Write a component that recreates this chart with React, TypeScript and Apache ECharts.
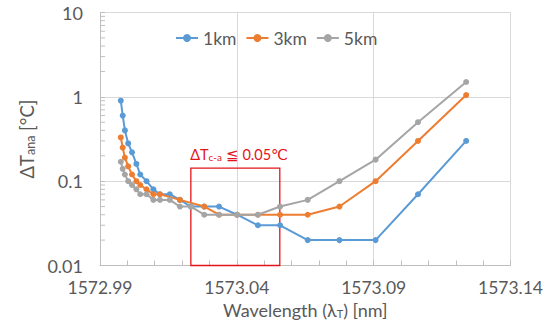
import React, { useEffect, useRef } from 'react';
import * as echarts from 'echarts';

const X_ORIGIN = 1572.99;
const xTickLabels = [1572.99, 1573.04, 1573.09, 1573.14];
const yTickLabels = [0.01, 0.1, 1, 10];

const wavelengths = [
  1572.9976, 1572.9983, 1572.9991, 1573.0003, 1573.0017, 1573.0033, 1573.0047, 1573.007,
  1573.0095, 1573.0119, 1573.0155, 1573.0192, 1573.0232, 1573.0281, 1573.0335, 1573.0401,
  1573.0477, 1573.0558, 1573.0659, 1573.0775, 1573.0907, 1573.1062, 1573.1238,
];
const series1km = [
  0.9, 0.6, 0.4, 0.28, 0.22, 0.16, 0.12, 0.1, 0.08, 0.07, 0.07, 0.06, 0.05, 0.05, 0.05, 0.04,
  0.03, 0.03, 0.02, 0.02, 0.02, 0.07, 0.3,
];
const series3km = [
  0.33, 0.25, 0.19, 0.15, 0.12, 0.1, 0.09, 0.08, 0.07, 0.07, null, 0.06, null, 0.05, 0.04, 0.04,
  0.04, 0.04, 0.04, 0.05, 0.1, 0.3, 1.05,
];
const series5km = [
  0.17, 0.14, 0.12, 0.1, 0.09, 0.08, 0.07, 0.07, 0.06, 0.06, 0.06, 0.05, 0.05, 0.04, 0.04, 0.04,
  0.04, 0.05, 0.06, 0.1, 0.18, 0.5, 1.5,
];
const seriesNames = ['1km', '3km', '5km'];
const seriesColors = ['#5B9BD5', '#ED7D31', '#A5A5A5'];

// annotation box (wavelength range, ΔT range)
const boxWavelengths = [1573.0232, 1573.0557];
const boxValues = [0.01, 0.143];

const FONT = 'Lato, "Liberation Sans", sans-serif';
const TEXT = '#595959';

export default function App() {
  const ref = useRef<HTMLDivElement>(null);
  useEffect(() => {
    const chart = echarts.init(ref.current!, null, { renderer: 'svg' });
    const rnd = (v: number) => Math.round(v * 10000) / 10000;
    const pairs = (vals: (number | null)[]) =>
      wavelengths
        .map((w, i) => [rnd(w - X_ORIGIN), vals[i]])
        .filter((p) => p[1] !== null);
    const minorY: number[] = [];
    yTickLabels.slice(0, -1).forEach((d) => {
      for (let k = 2; k <= 9; k++) minorY.push(Math.round(k * d * 1000) / 1000);
    });
    const xMin = rnd(xTickLabels[0] - X_ORIGIN);
    const xMax = rnd(xTickLabels[xTickLabels.length - 1] - X_ORIGIN);
    const xInt = rnd(xTickLabels[1] - xTickLabels[0]);

    const allData = [series1km, series3km, series5km];
    const lineSeries: any[] = allData.map((vals, i) => ({
      name: seriesNames[i],
      type: 'line',
      data: pairs(vals),
      symbol: 'circle',
      symbolSize: 6,
      color: seriesColors[i],
      lineStyle: { width: 2, color: seriesColors[i] },
      itemStyle: { color: seriesColors[i] },
      z: 3 + i,
    }));
    lineSeries[2].markArea = {
      silent: true,
      itemStyle: { color: 'rgba(0,0,0,0)', borderColor: '#E3141B', borderWidth: 1.3 },
      label: {
        show: true,
        position: [0, -22],
        formatter: '{a|ΔT}{s|c-a}{a| ≦ 0.05℃}',
        rich: {
          a: { fontSize: 14.5, color: '#E3141B', fontFamily: FONT, lineHeight: 17, verticalAlign: 'bottom' },
          s: { fontSize: 10, color: '#E3141B', fontFamily: FONT, lineHeight: 9, verticalAlign: 'bottom' },
        },
      },
      data: [
        [
          { coord: [rnd(boxWavelengths[0] - X_ORIGIN), boxValues[1]] },
          { coord: [rnd(boxWavelengths[1] - X_ORIGIN), boxValues[0]] },
        ],
      ],
    };

    const option: any = {
      animation: false,
      backgroundColor: '#fff',
      grid: { left: 100, right: 44.5, top: 12.5, bottom: 66.5, containLabel: false },
      legend: {
        data: seriesNames,
        left: 175,
        top: 29,
        padding: 0,
        itemWidth: 22,
        itemHeight: 10,
        itemGap: 9,
        textStyle: { fontSize: 17.5, color: TEXT, fontFamily: FONT },
      },
      xAxis: {
        type: 'value',
        min: xMin,
        max: xMax,
        interval: xInt,
        axisLine: { show: true, lineStyle: { color: '#BFBFBF', width: 1 } },
        axisTick: { show: true, inside: true, length: 5, lineStyle: { color: '#BFBFBF' } },
        minorTick: { show: true, splitNumber: 5, length: 5, lineStyle: { color: '#BFBFBF' } },
        splitLine: { show: true, lineStyle: { color: '#D9D9D9', width: 1 } },
        axisLabel: {
          formatter: (v: number) => (X_ORIGIN + v).toFixed(2),
          fontSize: 17.5,
          color: TEXT,
          fontFamily: FONT,
          margin: 13,
        },
        name: 'Wavelength (λ{s|T}) [nm]',
        nameLocation: 'middle',
        nameGap: 34,
        nameTextStyle: {
          fontSize: 18,
          color: TEXT,
          fontFamily: FONT,
          rich: {
            s: { fontSize: 11, color: TEXT, fontFamily: FONT, lineHeight: 9, verticalAlign: 'bottom' },
          },
        },
      },
      yAxis: {
        type: 'log',
        logBase: 10,
        min: yTickLabels[0],
        max: yTickLabels[yTickLabels.length - 1],
        axisLine: { show: true, lineStyle: { color: '#BFBFBF', width: 1 } },
        axisTick: { show: true, inside: true, length: 5, lineStyle: { color: '#BFBFBF' } },
        splitLine: { show: true, lineStyle: { color: '#D9D9D9', width: 1 } },
        axisLabel: { fontSize: 18, color: TEXT, fontFamily: FONT, margin: 17 },
        name: '{a|ΔT}{s|ana}{a| [°C]}',
        nameLocation: 'middle',
        nameGap: 60,
        nameRotate: 90,
        nameTextStyle: {
          rich: {
            a: { fontSize: 18.5, color: TEXT, fontFamily: FONT, lineHeight: 20, verticalAlign: 'bottom' },
            s: { fontSize: 12.5, color: TEXT, fontFamily: FONT, lineHeight: 11, verticalAlign: 'bottom' },
          },
        },
      },
      series: [
        {
          type: 'custom',
          silent: true,
          z: 1,
          clip: false,
          data: minorY.map((v) => [xMin, v]),
          renderItem: (_p: any, api: any) => {
            const p = api.coord([api.value(0), api.value(1)]);
            return {
              type: 'line',
              shape: { x1: p[0], y1: p[1], x2: p[0] + 5, y2: p[1] },
              style: { stroke: '#BFBFBF', lineWidth: 1 },
            };
          },
        },
        ...lineSeries,
      ],
    };
    chart.setOption(option);
    return () => chart.dispose();
  }, []);
  return <div ref={ref} style={{ position: 'fixed', left: 0, top: 0, width: 555, height: 332 }} />;
}
